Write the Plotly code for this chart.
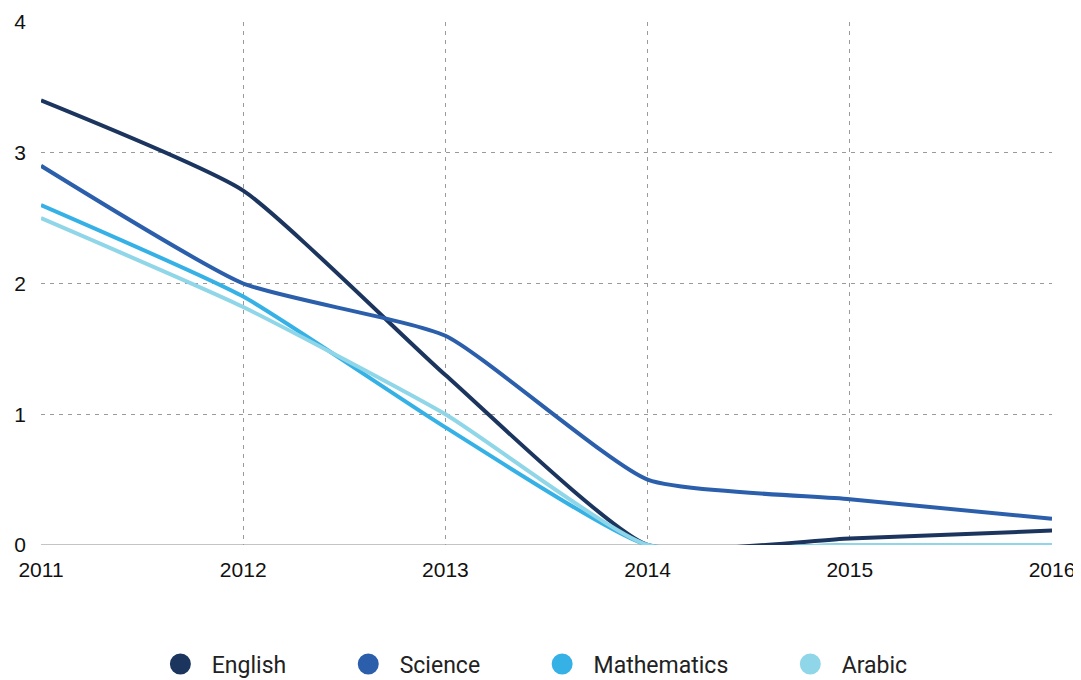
import plotly.graph_objects as go

years = [2011, 2012, 2013, 2014, 2015, 2016]
english = [3.4, 2.71, 1.3, 0.0, 0.05, 0.11]
science = [2.9, 2.0, 1.6, 0.5, 0.35, 0.2]
mathematics = [2.6, 1.9, 0.9, 0.0, 0.0, 0.0]
arabic = [2.5, 1.82, 1.0, 0.0, 0.0, 0.0]

series = [
    ("English", english, "#1b355e"),
    ("Science", science, "#2b5fab"),
    ("Mathematics", mathematics, "#35b1e6"),
    ("Arabic", arabic, "#8fd6e8"),
]

NB = "\u00a0"
fig = go.Figure()
for name, vals, color in series:
    fig.add_trace(go.Scatter(
        x=years, y=vals, mode="lines", name=name,
        line=dict(color=color, width=4, shape="spline", smoothing=0.5),
        cliponaxis=False, showlegend=False, hoverinfo="x+y+name",
    ))
for i, (name, vals, color) in enumerate(series):
    label = NB * 2 + name + (NB * 10 if i < len(series) - 1 else "")
    fig.add_trace(go.Scatter(
        x=[None], y=[None], mode="markers", name=label,
        marker=dict(color=color, size=16, symbol="circle",
                    line=dict(color=color, width=5)),
        showlegend=True,
    ))

# page body has an 8px default margin; figure is sized to compensate
fig.update_layout(
    width=1073, height=672,
    margin=dict(l=33, r=29, t=14, b=135),
    paper_bgcolor="white", plot_bgcolor="white",
    font=dict(family="Liberation Sans, Arial, sans-serif", size=21, color="#111"),
    legend=dict(
        orientation="h", x=0.49, xanchor="center",
        yref="container", y=0.0238, yanchor="middle",
        font=dict(family="Roboto, sans-serif", size=23, color="#222"),
        itemwidth=30,
    ),
    xaxis=dict(
        range=[2011, 2016], tickvals=years, ticktext=[str(y) for y in years],
        showgrid=True, gridcolor="#9a9a9a", griddash="4px,5px", gridwidth=1,
        zeroline=False, showline=False, ticks="", ticklabelstandoff=10,
        automargin=False,
    ),
    yaxis=dict(
        range=[0, 4], tickvals=[0, 1, 2, 3, 4],
        showgrid=True, gridcolor="#9a9a9a", griddash="4px,5px", gridwidth=1,
        zeroline=False, showline=False, ticks="", ticklabelstandoff=14,
        automargin=False,
    ),
    shapes=[dict(type="line", xref="paper", yref="y", x0=0, x1=1, y0=0, y1=0,
                 line=dict(color="#c4c4c4", width=2), layer="below")],
)

fig.write_html("out.html")
